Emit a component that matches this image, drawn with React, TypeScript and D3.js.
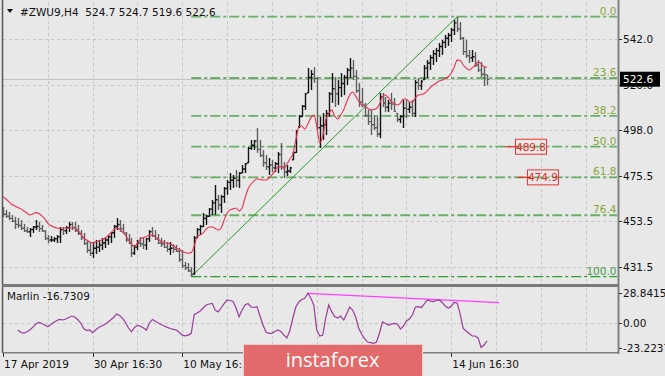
import React from 'react';
import * as d3 from 'd3';

const highs = [460.5,459.1,458.1,456.6,455.7,455.2,454.2,452.3,450.8,450.3,
451.3,454.2,453.2,451.8,449.3,446.9,446.4,445.9,446.9,450.8,
450.8,451.3,453.2,453.2,453.2,451.8,449.3,447.9,444.5,443.5,
443.0,444.5,444.5,445.5,445.9,446.9,448.4,451.8,455.2,454.2,
452.3,448.4,447.4,445.5,442.1,444.5,445.9,445.9,445.5,449.3,
450.8,449.3,447.4,445.5,444.5,443.5,443.5,442.5,442.1,440.6,
439.6,433.8,433.3,431.4,446.4,450.3,451.8,457.6,456.6,460.0,
463.9,471.2,466.4,466.4,470.2,473.6,477.0,476.1,478.5,477.5,
480.9,481.9,489.7,493.1,493.1,498.9,493.1,488.2,485.8,484.3,
483.4,482.4,487.2,491.6,482.4,480.9,480.0,487.2,497.9,505.2,
510.1,515.9,528.1,527.1,528.5,523.7,504.3,506.2,507.7,516.4,
525.6,523.7,522.2,525.6,524.7,528.1,532.9,531.9,527.1,520.8,
518.3,511.1,507.7,507.7,505.2,504.3,515.9,515.9,514.0,512.5,
515.9,513.5,506.2,505.2,512.5,512.5,511.5,512.5,522.2,523.2,
522.2,529.5,531.9,534.4,536.8,537.8,540.2,541.7,544.1,545.1,
547.5,551.4,553.0,550.4,543.1,541.7,536.8,536.8,535.8,531.9,
531.0,528.5,524.7];

const lows = [455.7,455.2,454.2,453.2,449.8,450.3,449.3,448.4,447.9,445.9,
447.9,449.3,448.4,448.4,444.5,443.0,443.5,443.5,443.0,443.0,
446.9,447.4,448.4,449.3,448.4,446.9,444.5,442.1,438.2,436.7,
435.7,437.7,438.6,439.6,440.6,442.1,443.0,445.5,449.3,448.4,
447.4,443.5,442.5,436.2,437.2,439.6,441.1,440.1,439.6,443.5,
445.9,444.5,442.5,441.1,440.6,438.6,437.2,438.2,438.6,433.8,
430.9,429.9,428.9,426.7,427.5,445.5,446.9,450.8,451.8,455.7,
456.6,456.6,459.1,457.6,462.5,466.4,468.8,469.8,470.2,469.8,
477.0,477.0,481.9,488.2,488.2,486.8,484.8,480.0,478.5,476.1,
477.5,477.5,477.0,478.5,474.6,475.6,477.0,483.4,486.8,498.9,
504.3,507.7,515.9,517.4,520.8,497.9,489.2,493.1,495.5,504.3,
511.1,509.1,510.1,514.0,514.9,519.8,523.2,522.2,515.9,509.1,
509.1,504.3,500.4,495.5,497.9,494.5,494.0,509.1,506.7,506.7,
507.7,506.7,501.8,501.3,498.9,503.8,506.2,504.3,504.3,517.4,
517.4,522.2,523.2,527.1,529.5,531.0,533.4,534.4,537.8,538.8,
540.7,544.1,545.5,541.7,534.4,532.9,530.5,531.0,528.5,526.1,
523.7,519.3,519.6];

const opens = [459.5,457.0,456.0,455.0,453.6,452.0,451.5,450.2,449.0,448.5,
449.5,450.8,451.0,450.0,448.8,445.2,444.5,444.5,445.0,446.0,
449.5,449.0,450.5,452.0,450.5,449.0,447.5,445.5,442.8,439.5,
438.0,440.5,441.0,442.0,443.0,444.5,446.0,448.0,451.0,452.0,
450.0,447.8,444.5,443.0,438.0,441.0,443.0,442.5,442.0,445.0,
448.5,446.5,445.0,443.0,442.5,441.0,440.0,440.5,440.0,439.0,
435.0,432.0,431.0,429.5,428.0,445.5,449.5,451.0,455.0,456.0,
459.5,462.5,464.0,461.5,465.5,469.5,472.5,473.5,474.5,473.5,
477.0,479.0,482.0,489.0,490.5,492.5,488.5,485.5,482.0,480.0,
481.0,479.5,481.5,486.0,480.0,477.5,478.0,483.5,487.0,499.5,
504.5,509.5,516.0,523.5,525.0,523.0,499.0,500.0,500.5,506.0,
515.5,518.0,515.5,518.5,520.5,523.5,527.0,528.0,524.0,517.0,
511.5,510.0,505.0,502.0,500.5,499.0,496.0,514.0,511.0,509.0,
511.0,510.5,506.0,503.0,504.5,508.5,508.0,509.0,506.0,521.0,
519.5,522.5,528.0,530.5,533.0,535.0,536.5,538.5,540.5,542.5,
544.0,546.5,550.0,547.0,542.5,536.0,534.0,533.0,533.5,529.5,
527.0,525.0,524.7];

const closes = [457.0,456.0,455.0,453.6,452.0,451.5,450.2,449.0,448.5,449.5,
450.8,451.0,450.0,448.8,445.2,444.5,444.5,445.0,446.0,449.5,
449.0,450.5,452.0,450.5,449.0,447.5,445.5,442.8,439.5,438.0,
440.5,441.0,442.0,443.0,444.5,446.0,448.0,451.0,452.0,450.0,
447.8,444.5,443.0,438.0,441.0,443.0,442.5,442.0,445.0,448.5,
446.5,445.0,443.0,442.5,441.0,440.0,440.5,440.0,439.0,435.0,
432.0,431.0,429.5,428.0,445.5,449.5,451.0,455.0,456.0,459.5,
462.5,464.0,461.5,465.5,469.5,472.5,473.5,474.5,473.5,477.0,
479.0,481.5,489.0,490.5,492.5,488.5,485.5,482.0,480.0,481.0,
479.5,481.5,486.0,480.0,477.5,478.0,479.5,487.0,497.0,504.5,
509.5,515.5,523.5,525.0,523.0,499.0,500.0,500.5,506.0,515.5,
518.0,515.5,518.5,520.5,523.5,527.0,528.0,524.0,517.0,511.5,
510.0,505.0,502.0,500.5,499.0,496.0,514.0,511.0,509.0,511.0,
510.5,507.0,503.0,504.5,508.5,508.0,509.0,506.0,521.0,519.5,
521.5,528.0,530.5,533.0,535.0,536.5,538.5,540.5,542.5,544.0,
546.5,550.0,547.0,542.5,536.0,534.0,533.0,533.5,529.5,527.0,
525.0,524.7,522.6];

const maValues = [465.5,464.4,463.0,461.7,461.0,460.3,459.6,458.6,457.6,456.6,
457.1,457.8,457.4,456.2,454.7,452.7,451.5,450.8,450.3,450.1,
450.3,450.3,450.3,450.3,450.3,449.3,447.4,445.5,444.5,443.5,
443.2,443.5,444.0,444.5,445.2,446.4,447.9,449.3,450.3,449.8,
448.4,446.7,444.5,442.5,441.2,443.0,445.0,445.7,446.2,446.7,
446.9,445.9,444.7,443.8,443.3,443.0,442.5,441.6,440.6,439.9,
438.8,438.4,438.0,438.4,441.6,446.4,446.9,447.9,449.8,450.8,
450.8,450.1,449.3,450.3,454.2,457.6,459.1,459.6,460.0,458.6,
460.0,464.9,469.3,471.7,473.1,474.1,473.9,473.6,473.6,474.6,
476.1,478.0,480.0,480.0,479.3,481.4,483.8,486.3,493.1,499.4,
499.9,498.4,500.8,503.8,505.2,499.9,491.6,495.0,502.8,505.7,
507.7,504.7,503.3,505.2,507.7,511.5,514.9,516.4,514.5,512.0,
510.1,509.6,508.6,507.7,507.9,508.4,510.6,514.2,514.9,513.5,
511.7,510.8,510.1,511.0,513.0,513.0,511.5,511.5,513.5,514.9,
515.2,515.7,516.9,518.6,519.8,520.8,521.7,522.2,523.0,523.8,
525.6,528.5,531.9,531.7,529.5,528.1,527.1,528.1,529.5,531.1,
530.0,528.7,528.5];

const marlinValues: (number | null)[] = [null,null,null,null,null,
-6.4,-8.8,-9.3,-8.1,-6.4,
-3.6,-0.7,0.8,-0.2,-1.6,-3.3,-1.2,0.8,2.7,3.7,
3.2,4.1,5.6,7.0,6.1,3.7,0.3,-5.0,-6.9,-6.4,
-9.0,-6.4,-4.0,-2.6,-1.2,0.8,3.2,5.6,8.9,7.5,
4.8,0.8,-4.5,-8.1,-4.0,-1.9,-2.9,-4.5,-6.4,0.3,
3.7,1.9,0.3,-1.4,-2.6,-3.9,-5.0,-5.8,-6.4,-8.8,
-11.3,-12.0,-11.3,-9.6,8.5,9.9,11.8,14.7,17.6,18.6,
19.2,12.8,10.9,14.7,19.0,22.4,21.9,21.0,14.7,6.3,
12.8,17.6,19.0,15.7,15.2,16.0,7.0,-1.6,-8.4,-9.6,
-9.6,-7.9,-6.4,-7.9,-11.3,-14.1,-6.9,5.1,15.7,20.5,
22.9,24.0,28.8415,24.3,17.6,-6.4,-12.2,-11.3,5.1,17.6,
11.2,6.5,5.1,7.0,3.2,8.9,15.7,12.8,6.3,-4.5,
-10.3,-14.6,-18.0,-18.5,-19.2,-18.0,-9.3,1.3,-0.2,-1.6,
-0.7,0.0,-0.7,-5.5,-2.6,2.2,4.1,8.0,15.7,16.0,
15.2,18.6,22.4,21.4,20.8,21.9,22.4,20.0,16.6,14.4,
16.6,20.0,19.5,8.9,-4.8,-7.4,-9.8,-12.2,-12.2,-14.1,
-23.2237,-20.9,-16.7309];

const priceTicks = [542.0, 520.0, 498.0, 475.5, 453.5, 431.5];
const marlinTicks = [28.8415, 0.0, -23.2237];
const marlinTickLabels = ['28.8415', '0.00', '-23.2237'];
const fibLevels = [0, 23.6, 38.2, 50, 61.8, 76.4, 100];
const fibHigh = 553.0;
const fibLow = 426.7;
const fibHighIdx = 152;
const fibLowIdx = 63;
const timeIdx = [0, 30, 60, 150];
const timeLabels = ['17 Apr 2019', '30 Apr 16:30', '10 May 16:30', '14 Jun 16:30'];
const gridIdx = [15, 30, 45, 60, 75, 90, 105, 120, 135, 150, 165, 180, 195];
const redLabelPrices = [489.8, 474.9];
const redLabelIdx = [168, 172];
const divIdx = [102, 166];
const divValues = [28.8415, 19.8];
const bidPrice = 522.6;

const FONT = 'DejaVu Sans';

export default function App() {
  const W = 665, H = 376;
  const xs = d3.scaleLinear().domain([0, 195]).range([3, 585.7]);
  const ys = d3.scaleLinear().domain([542, 431.5]).range([39.3, 266.7]);
  const ym = d3.scaleLinear().domain([28.8415, -23.2237]).range([293.3, 347.5]);

  const maLine = d3.line<number>().x((_, i) => xs(i)).y(d => ys(d)).curve(d3.curveMonotoneX);
  const marlinLine = d3.line<number | null>()
    .defined(d => d !== null)
    .x((_, i) => xs(i)).y(d => ym(d as number));

  const px = (v: number) => Math.round(v) + 0.5;

  const fibPrice = (l: number) => fibHigh - (l / 100) * (fibHigh - fibLow);

  return (
    <svg width={W} height={H} style={{ position: 'absolute', left: 0, top: 0, display: 'block' }}
      fontFamily={FONT} fontSize={10.5}>
      <defs>
        <clipPath id="mainClip"><rect x={3} y={2} width={615} height={282} /></clipPath>
        <clipPath id="indClip"><rect x={3} y={288} width={615} height={64} /></clipPath>
      </defs>
      <rect x={0} y={0} width={W} height={H} fill="#e8e8e8" />

      {gridIdx.map(g => (
        <line key={'gv' + g} x1={px(xs(g))} x2={px(xs(g))} y1={3} y2={284} stroke="#c6c6c6" strokeDasharray="3 3" />
      ))}
      {priceTicks.map(t => (
        <line key={'gh' + t} x1={3} x2={617} y1={px(ys(t))} y2={px(ys(t))} stroke="#c6c6c6" strokeDasharray="3 3" />
      ))}
      {gridIdx.map(g => (
        <line key={'gvi' + g} x1={px(xs(g))} x2={px(xs(g))} y1={288} y2={352} stroke="#c6c6c6" strokeDasharray="3 3" />
      ))}
      <line x1={3} x2={617} y1={px(ym(0))} y2={px(ym(0))} stroke="#c6c6c6" strokeDasharray="3 3" />

      <g clipPath="url(#mainClip)">
        <line x1={3} x2={617} y1={px(ys(bidPrice))} y2={px(ys(bidPrice))} stroke="#c2c2c2" strokeWidth={1} />
        {fibLevels.map(l => {
          const yy = ys(fibPrice(l));
          const dark = l === 100;
          return (
            <g key={'fib' + l}>
              <line x1={xs(fibLowIdx)} x2={617} y1={yy} y2={yy}
                stroke={dark ? '#2f9d2f' : '#66b066'} strokeWidth={dark ? 1.2 : 1.8}
                strokeDasharray="10 3 3 3" />
              <text x={616.5} y={yy - 2} textAnchor="end" fill={dark ? '#3d9e3d' : '#86a63a'}>{l.toFixed(1)}</text>
            </g>
          );
        })}
        <line x1={xs(fibLowIdx)} y1={ys(fibLow)} x2={xs(fibHighIdx)} y2={ys(fibHigh)} stroke="#2b9b2b" strokeWidth={1} />

        {highs.map((h, i) => {
          const cx = px(xs(i));
          const up = closes[i] >= opens[i];
          const col = up ? '#141414' : '#5e5e5e';
          return (
            <g key={'b' + i} stroke={col} strokeWidth={1.4}>
              <line x1={cx} x2={cx} y1={ys(h)} y2={ys(lows[i])} />
              <line x1={cx - 1.5} x2={cx} y1={ys(opens[i])} y2={ys(opens[i])} />
              <line x1={cx} x2={cx + 1.5} y1={ys(closes[i])} y2={ys(closes[i])} />
            </g>
          );
        })}
        <path d={maLine(maValues) || ''} fill="none" stroke="#e5304f" strokeWidth={1.1} />

        {redLabelPrices.map((p, k) => {
          const x0 = xs(redLabelIdx[k]);
          const yy = ys(p);
          return (
            <g key={'rl' + k}>
              <line x1={x0} x2={x0 + 14} y1={yy} y2={yy} stroke="#e53030" strokeWidth={1.2} />
              <rect x={x0 + 10.5} y={yy - 7.5} width={31} height={15} fill="none" stroke="#ee3333" strokeWidth={1} />
              <text x={x0 + 26} y={yy + 4} textAnchor="middle" fill="#e82828">{p.toFixed(1)}</text>
            </g>
          );
        })}
      </g>

      <g clipPath="url(#indClip)">
        <line x1={xs(divIdx[0])} y1={ym(divValues[0])} x2={xs(divIdx[1])} y2={ym(divValues[1])} stroke="#ff3cff" strokeWidth={1.3} />
        <path d={marlinLine(marlinValues) || ''} fill="none" stroke="#9a3c9a" strokeWidth={1.2} />
      </g>

      <line x1={2.5} x2={2.5} y1={0} y2={353} stroke="#555" strokeWidth={1.5} />
      <line x1={618.5} x2={618.5} y1={0} y2={354} stroke="#808080" strokeWidth={2} />
      <rect x={2} y={284} width={617} height={3} fill="#7a7a7a" />
      <line x1={2} x2={619} y1={352.75} y2={352.75} stroke="#808080" strokeWidth={1.5} />

      <path d="M7,9 L13,9 L10,13 Z" fill="#111" />
      <text x={20} y={16} fill="#111" style={{ whiteSpace: 'pre' }}>{'#ZWU9,H4  524.7 524.7 519.6 522.6'}</text>
      <text x={7} y={300} fill="#111">Marlin -16.7309</text>

      {priceTicks.map(t => (
        <g key={'pt' + t}>
          <line x1={619} x2={622} y1={px(ys(t))} y2={px(ys(t))} stroke="#333" />
          <text x={623} y={ys(t) + 4} fill="#111">{t.toFixed(1)}</text>
        </g>
      ))}
      <rect x={620} y={ys(bidPrice) - 7.5} width={40} height={15} fill="#000" />
      <text x={623} y={ys(bidPrice) + 4} fill="#fff">{bidPrice.toFixed(1)}</text>

      {marlinTicks.map((t, k) => (
        <g key={'mt' + k}>
          <line x1={619} x2={622} y1={px(ym(t))} y2={px(ym(t))} stroke="#333" />
          <text x={623} y={ym(t) + 4} fill="#111">{marlinTickLabels[k]}</text>
        </g>
      ))}

      {timeIdx.map((ti, k) => (
        <g key={'tl' + k}>
          <line x1={px(xs(ti))} x2={px(xs(ti))} y1={353} y2={357} stroke="#333" />
          <text x={xs(ti) + 1} y={368} fill="#111">{timeLabels[k]}</text>
        </g>
      ))}

      <rect x={243.5} y={344.5} width={179} height={34} fill="#e26a6a" stroke="#f3c9c9" strokeWidth={1} />
      <text x={332.5} y={367} textAnchor="middle" fill="#fff" fontFamily="Open Sans" fontSize={20}>instaforex</text>
    </svg>
  );
}
